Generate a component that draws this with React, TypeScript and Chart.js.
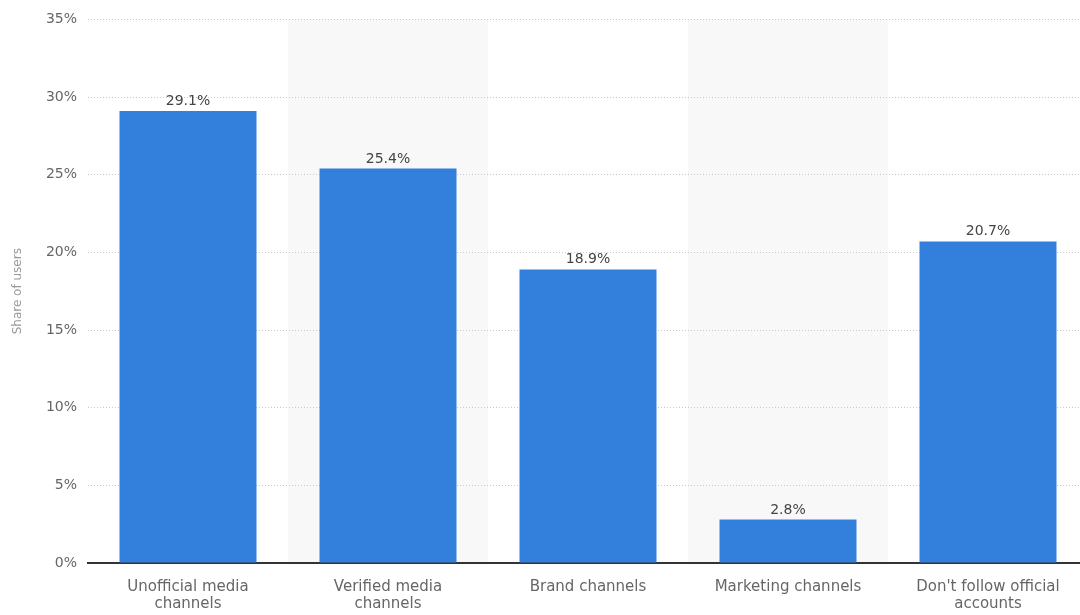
import React, { useEffect, useRef } from "react";
import { Chart, registerables } from "chart.js";

Chart.register(...registerables);

const categories: string[][] = [
  ["Unofficial media", "channels"],
  ["Verified media", "channels"],
  ["Brand channels"],
  ["Marketing channels"],
  ["Don't follow official", "accounts"],
];
const shares: number[] = [29.1, 25.4, 18.9, 2.8, 20.7];
const yTicks: number[] = [0, 5, 10, 15, 20, 25, 30, 35];
const FONT = "'DejaVu Sans', sans-serif";

const bandsPlugin = {
  id: "bands",
  beforeDraw(chart: any) {
    const { ctx, chartArea, scales } = chart;
    const x = scales.x;
    const n = categories.length;
    const w = (chartArea.right - chartArea.left) / n;
    ctx.save();
    ctx.fillStyle = "#f8f8f8";
    for (let i = 1; i < n; i += 2) {
      const c = x.getPixelForValue(i);
      ctx.fillRect(c - w / 2, chartArea.top, w, chartArea.bottom - chartArea.top);
    }
    ctx.restore();
  },
};

const labelsPlugin = {
  id: "valueLabels",
  afterDatasetsDraw(chart: any) {
    const { ctx } = chart;
    const meta = chart.getDatasetMeta(0);
    ctx.save();
    ctx.font = `14px ${FONT}`;
    ctx.fillStyle = "#444";
    ctx.textAlign = "center";
    ctx.textBaseline = "alphabetic";
    meta.data.forEach((bar: any, i: number) => {
      ctx.fillText(shares[i].toFixed(1) + "%", bar.x, bar.y - 6);
    });
    ctx.restore();
  },
};

const W = 1088;

export default function App() {
  const ref = useRef<HTMLCanvasElement | null>(null);
  useEffect(() => {
    if (!ref.current) return;
    const chart = new Chart(ref.current, {
      type: "bar",
      data: {
        labels: categories as any,
        datasets: [
          {
            data: shares,
            backgroundColor: "#3380dc",
            barPercentage: 0.685,
            categoryPercentage: 1,
          },
        ],
      },
      options: {
        animation: false,
        responsive: false,
        maintainAspectRatio: false,
        layout: { padding: { top: 18, right: 0, left: 0, bottom: 0 } },
        plugins: { legend: { display: false }, tooltip: { enabled: false } },
        scales: {
          x: {
            grid: { display: false, drawTicks: false },
            border: { display: true, color: "#333", width: 2 },
            ticks: {
              color: "#666",
              font: { family: FONT, size: 15, lineHeight: 1.15 },
              padding: 15,
              maxRotation: 0,
              autoSkip: false,
            },
            afterFit(scale: any) {
              scale.height = 52;
            },
          },
          y: {
            min: 0,
            max: 35,
            afterBuildTicks(scale: any) {
              scale.ticks = yTicks.map((v) => ({ value: v }));
            },
            grid: {
              color: (c: any) => (c.tick && c.tick.value === 0 ? "rgba(0,0,0,0)" : "#c8c8c8"),
              drawTicks: false,
              lineWidth: 1,
            },
            border: { display: false, dash: [1, 2] },
            ticks: {
              color: "#666",
              font: { family: FONT, size: 14 },
              padding: 11,
              callback: (v: any) => v + "%",
            },
            title: {
              display: true,
              text: "Share of users",
              color: "#999",
              font: { family: FONT, size: 12 },
              padding: { top: 11, bottom: 0 },
            },
            afterFit(scale: any) {
              scale.width = 88;
            },
          },
        },
      },
      plugins: [bandsPlugin, labelsPlugin],
    });
    return () => chart.destroy();
  }, []);
  return (
    <div style={{ position: "absolute", left: 0, top: 0, width: 1080, height: 615, overflow: "hidden", background: "#fff" }}>
      <canvas ref={ref} width={W} height={615} style={{ width: W, height: 615, display: "block" }} />
    </div>
  );
}
